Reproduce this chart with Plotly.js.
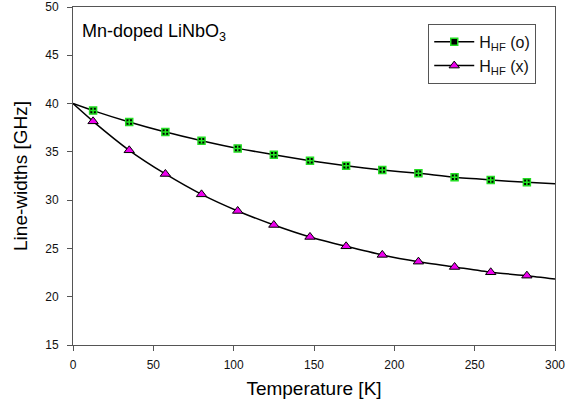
<!DOCTYPE html>
<html><head><meta charset="utf-8">
<script src="https://cdn.plot.ly/plotly-3.0.1.min.js"></script>
<style>html,body{margin:0;padding:0;background:#fff}#c{width:578px;height:412px}</style>
</head><body><div id="c"></div>
<script>
const temps = [12.5, 35, 57.5, 80, 102.5, 125, 147.5, 170, 192.5, 215, 237.5, 260, 282.5];
const hfO = [39.27, 38.09, 37.05, 36.16, 35.36, 34.71, 34.09, 33.57, 33.12, 32.78, 32.36, 32.09, 31.85];
const hfX = [38.16, 35.16, 32.71, 30.6, 28.88, 27.43, 26.19, 25.22, 24.33, 23.63, 23.08, 22.53, 22.18];
const fitT = [0, 12.5, 35, 57.5, 80, 102.5, 125, 147.5, 170, 192.5, 215, 237.5, 260, 282.5, 300];
const fitO = [40, 39.27, 38.09, 37.05, 36.16, 35.36, 34.71, 34.09, 33.57, 33.12, 32.78, 32.36, 32.09, 31.85, 31.7];
const fitX = [40, 38.16, 35.16, 32.71, 30.6, 28.88, 27.43, 26.19, 25.22, 24.33, 23.63, 23.08, 22.53, 22.18, 21.84];
const nameO = 'H<sub>HF</sub> (o)';
const nameX = 'H<sub>HF</sub> (x)';

const font = 'Liberation Sans, Arial, sans-serif';
const markO = {symbol: 'square', size: 7, color: '#000', line: {color: '#22dd22', width: 1.5}};
const markX = {symbol: 'triangle-up', size: 9, color: '#ee00ee', line: {color: '#000', width: 1}};
const traces = [
  {x: fitT, y: fitO, mode: 'lines', line: {color: '#000', width: 1.5, shape: 'spline', smoothing: 0.6}, showlegend: false, hoverinfo: 'skip'},
  {x: fitT, y: fitX, mode: 'lines', line: {color: '#000', width: 1.5, shape: 'spline', smoothing: 0.6}, showlegend: false, hoverinfo: 'skip'},
  {x: temps, y: hfO, mode: 'markers', showlegend: false, marker: markO},
  {x: temps, y: hfO, mode: 'markers', showlegend: false, hoverinfo: 'skip',
   marker: {symbol: 'cross-thin', size: 4, color: '#22ee22', line: {color: '#22ee22', width: 1.5}}},
  {x: temps, y: hfX, mode: 'markers', showlegend: false, marker: markX},
  // legend entries (line + marker), no points in plot
  {x: [null], y: [null], name: nameO, mode: 'lines+markers', line: {color: '#000', width: 1.5}, marker: markO},
  {x: [null], y: [null], name: nameX, mode: 'lines+markers', line: {color: '#000', width: 1.5}, marker: markX}
];
const layout = {
  width: 578, height: 412,
  margin: {l: 73, r: 23, t: 7, b: 67},
  paper_bgcolor: '#fff', plot_bgcolor: '#fff',
  font: {family: font, color: '#111'},
  showlegend: true,
  legend: {x: 0.737, y: 0.95, xanchor: 'left', yanchor: 'top', bgcolor: '#fff', bordercolor: '#555', borderwidth: 1,
           font: {family: font, size: 16, color: '#111'}, itemwidth: 40},
  xaxis: {range: [0, 300], tickvals: [0, 50, 100, 150, 200, 250, 300], ticks: 'outside', ticklen: 5, tickcolor: '#555',
          showline: true, linecolor: '#555', linewidth: 1, mirror: true, showgrid: false, zeroline: false,
          ticklabelstandoff: 4,
          tickfont: {family: font, size: 12, color: '#111'},
          title: {text: 'Temperature [K]', font: {family: font, size: 19, color: '#000'}, standoff: 10}},
  yaxis: {range: [15, 50], tickvals: [15, 20, 25, 30, 35, 40, 45, 50], ticks: 'outside', ticklen: 5, tickcolor: '#555',
          showline: true, linecolor: '#555', linewidth: 1, mirror: true, showgrid: false, zeroline: false,
          ticklabelstandoff: 6,
          tickfont: {family: font, size: 12, color: '#111'},
          title: {text: 'Line-widths [GHz]', font: {family: font, size: 19, color: '#000'}, standoff: 12}},
  annotations: [{xref: 'paper', yref: 'paper', x: 0.015, y: 0.965, xanchor: 'left', yanchor: 'top', showarrow: false,
                 text: 'Mn-doped LiNbO<sub>3</sub>', font: {family: font, size: 18, color: '#000'}}]
};
Plotly.newPlot('c', traces, layout, {displayModeBar: false, staticPlot: true});
</script></body></html>
